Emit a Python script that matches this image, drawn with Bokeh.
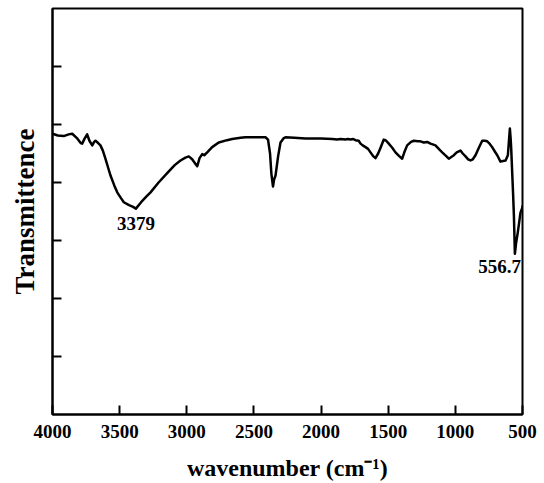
from bokeh.plotting import figure
from bokeh.models import Range1d, FixedTicker, Label
from bokeh.embed import file_html
from bokeh.resources import INLINE

# FTIR spectrum: wavenumber (cm^-1) vs. transmittance (arbitrary units)
wavenumber = [
    4000, 3960, 3916, 3880, 3853, 3820, 3790, 3779, 3760, 3742, 3725, 3704,
    3690, 3680, 3660, 3643, 3625, 3606, 3585, 3568, 3540, 3518, 3490, 3469,
    3430, 3400, 3379, 3340, 3300, 3270, 3210, 3146, 3090, 3047, 3010, 2985,
    2960, 2935, 2922, 2905, 2885, 2870, 2848, 2811, 2762, 2700, 2662, 2600,
    2563, 2500, 2414, 2395, 2380, 2370, 2358, 2350, 2339, 2320, 2302, 2280,
    2265, 2200, 2116, 2000, 1917, 1880, 1855, 1820, 1800, 1781, 1760, 1744,
    1720, 1706, 1690, 1669, 1650, 1632, 1610, 1595, 1575, 1557, 1533, 1515,
    1496, 1470, 1446, 1420, 1396, 1380, 1359, 1330, 1309, 1280, 1260, 1235,
    1210, 1185, 1148, 1120, 1098, 1070, 1049, 1030, 1011, 990, 962, 945,
    924, 905, 887, 870, 850, 825, 800, 780, 763, 745, 726, 705,
    688, 664, 645, 626, 609, 600, 594, 588, 584, 570, 564, 556.7,
    548, 535, 515, 502, 500,
]
transmittance = [
    4.84, 4.81, 4.80, 4.83, 4.84, 4.77, 4.68, 4.67, 4.76, 4.83, 4.72, 4.64,
    4.70, 4.72, 4.68, 4.64, 4.55, 4.41, 4.25, 4.12, 3.95, 3.83, 3.73, 3.66,
    3.61, 3.58, 3.55, 3.66, 3.76, 3.83, 4.00, 4.16, 4.30, 4.38, 4.43, 4.45,
    4.40, 4.32, 4.28, 4.42, 4.49, 4.47, 4.52, 4.61, 4.69, 4.73, 4.75, 4.77,
    4.78, 4.78, 4.78, 4.74, 4.50, 4.15, 3.93, 4.05, 4.12, 4.45, 4.69, 4.76,
    4.78, 4.77, 4.76, 4.76, 4.75, 4.74, 4.75, 4.74, 4.75, 4.74, 4.75, 4.73,
    4.72, 4.67, 4.64, 4.61, 4.58, 4.52, 4.45, 4.42, 4.50, 4.60, 4.74, 4.72,
    4.67, 4.60, 4.52, 4.46, 4.41, 4.52, 4.64, 4.70, 4.72, 4.71, 4.71, 4.69,
    4.70, 4.67, 4.64, 4.57, 4.52, 4.46, 4.41, 4.44, 4.47, 4.52, 4.55, 4.50,
    4.45, 4.40, 4.38, 4.40, 4.47, 4.60, 4.72, 4.72, 4.71, 4.67, 4.61, 4.53,
    4.47, 4.36, 4.37, 4.38, 4.47, 4.75, 4.93, 4.75, 4.58, 3.80, 3.43, 2.77,
    2.95, 3.14, 3.48, 3.56, 3.60,
]

x_ticks = [4000, 3500, 3000, 2500, 2000, 1500, 1000, 500]
y_ticks = [1, 2, 3, 4, 5, 6]

# annotated absorption bands
peak_labels = ["3379", "556.7"]
peak_x = [3379, 556.7]

FONT = "Liberation Serif"

p = figure(
    width=544, height=483,
    x_range=Range1d(4000, 500), y_range=Range1d(0, 7),
    output_backend="svg", toolbar_location=None,
    min_border_left=52, min_border_right=22,
    min_border_top=8, min_border_bottom=69,
    background_fill_color="white", border_fill_color="white",
)
p.grid.visible = False
p.outline_line_color = "black"
p.outline_line_width = 2
p.outline_line_alpha = 1.0

for ax in (p.xaxis, p.yaxis):
    ax.axis_line_width = 2
    ax.major_tick_line_width = 2
    ax.major_tick_in = 9
    ax.major_tick_out = 0
    ax.minor_tick_line_color = None
    ax.major_label_text_font = FONT
    ax.major_label_text_font_style = "bold"
    ax.major_label_text_color = "black"
    ax.axis_label_text_font = FONT
    ax.axis_label_text_font_style = "bold"
    ax.axis_label_text_color = "black"

p.xaxis.ticker = FixedTicker(ticks=x_ticks)
p.xaxis.major_label_text_font_size = "19px"
p.xaxis.major_label_standoff = 10
p.xaxis.axis_label = "wavenumber (cm\u207b\u00b9)"
p.xaxis.axis_label_text_font_size = "24px"
p.xaxis.axis_label_standoff = 14

p.yaxis.ticker = FixedTicker(ticks=y_ticks)
p.yaxis.major_label_overrides = {t: "" for t in y_ticks}
p.yaxis.major_label_standoff = 0
p.yaxis.axis_label = "Transmittence"
p.yaxis.axis_label_text_font_size = "27px"
p.yaxis.axis_label_standoff = 13

p.line(wavenumber, transmittance, line_color="black", line_width=2.5,
       line_join="round")

# peak annotations
y_at = dict(zip(wavenumber, transmittance))
p.add_layout(Label(x=peak_x[0], y=y_at[peak_x[0]], text=peak_labels[0],
                   text_align="center", text_baseline="alphabetic",
                   y_offset=-15, text_font=FONT, text_font_style="bold",
                   text_font_size="19px", text_color="black"))
p.add_layout(Label(x=peak_x[1], y=y_at[peak_x[1]], text=peak_labels[1],
                   text_align="right", text_baseline="alphabetic",
                   x_offset=6, y_offset=-13, text_font=FONT,
                   text_font_style="bold", text_font_size="19px",
                   text_color="black"))

open("out.html", "w").write(file_html(p, INLINE))
